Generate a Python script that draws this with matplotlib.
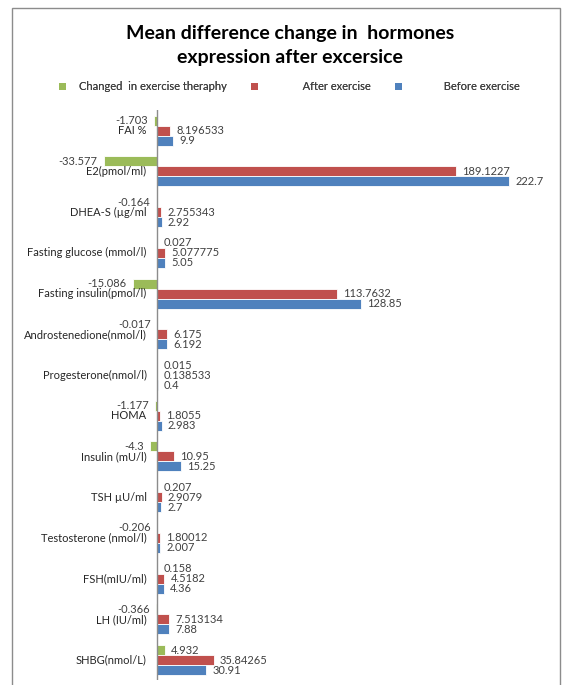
import matplotlib
matplotlib.use("Agg")
import matplotlib.pyplot as plt
from matplotlib.patches import Patch, Rectangle
import numpy as np

plt.rcParams['font.family'] = ['Lato', 'DejaVu Sans']

# categories, top to bottom as in the original chart
categories = [
    "FAI %", "E2(pmol/ml)", "DHEA-S (\u00b5g/ml", "Fasting glucose (mmol/l)",
    "Fasting insulin(pmol/l)", "Androstenedione(nmol/l)", "Progesterone(nmol/l)",
    "HOMA", "Insulin (mU/l)", "TSH \u00b5U/ml", "Testosterone (nmol/l)",
    "FSH(mIU/ml)", "LH (IU/ml)", "SHBG(nmol/L)",
]
changed = [-1.703, -33.577, -0.164, 0.027, -15.086, -0.017, 0.015,
           -1.177, -4.3, 0.207, -0.206, 0.158, -0.366, 4.932]
after = [8.196533, 189.1227, 2.755343, 5.077775, 113.7632, 6.175, 0.138533,
         1.8055, 10.95, 2.9079, 1.80012, 4.5182, 7.513134, 35.84265]
before = [9.9, 222.7, 2.92, 5.05, 128.85, 6.192, 0.4,
          2.983, 15.25, 2.7, 2.007, 4.36, 7.88, 30.91]

changed_lbl = ["-1.703", "-33.577", "-0.164", "0.027", "-15.086", "-0.017", "0.015",
               "-1.177", "-4.3", "0.207", "-0.206", "0.158", "-0.366", "4.932"]
after_lbl = ["8.196533", "189.1227", "2.755343", "5.077775", "113.7632", "6.175",
             "0.138533", "1.8055", "10.95", "2.9079", "1.80012", "4.5182",
             "7.513134", "35.84265"]
before_lbl = ["9.9", "222.7", "2.92", "5.05", "128.85", "6.192", "0.4",
              "2.983", "15.25", "2.7", "2.007", "4.36", "7.88", "30.91"]

series_names = ["Changed  in exercise theraphy", "After exercise", "Before exercise"]
colors = ["#9BBB59", "#C0504D", "#4F81BD"]

W, H = 568, 685
fig = plt.figure(figsize=(W / 100, H / 100), dpi=100)

# outer chart border (Excel style)
fig.add_artist(Rectangle((12 / W, -0.02), (560 - 12) / W, 1.02 - 8 / H,
                         transform=fig.transFigure, fill=False,
                         edgecolor="#8c8c8c", linewidth=1.0))

ax_left, ax_right = 20, 555
ax_top, ax_bottom = 110.4, 680.4
ax = fig.add_axes([ax_left / W, 1 - ax_bottom / H,
                   (ax_right - ax_left) / W, (ax_bottom - ax_top) / H])

y = np.arange(len(categories))
h = 0.246
ax.barh(y - h, changed, height=h, color=colors[0], edgecolor="white", linewidth=0.6)
ax.barh(y, after, height=h, color=colors[1], edgecolor="white", linewidth=0.6)
ax.barh(y + h, before, height=h, color=colors[2], edgecolor="white", linewidth=0.6)

px_per_unit = 352 / 222.7
ax.set_xlim(-(157 - ax_left) / px_per_unit, (ax_right - 157) / px_per_unit)
ax.set_ylim(len(categories) - 0.5, -0.5)
ax.axis("off")
ax.axvline(0, color="#8c8c8c", linewidth=1.0)

txt_color = "#404040"
for vals, lbls, off in [(changed, changed_lbl, -h), (after, after_lbl, 0), (before, before_lbl, h)]:
    for i, (v, s) in enumerate(zip(vals, lbls)):
        dx = 4.5 if v >= 0 else -4.5
        ax.annotate(s, (v, i + off), xytext=(dx, 0), textcoords="offset points",
                    ha="left" if v >= 0 else "right", va="center",
                    fontsize=8, color=txt_color)

for i, c in enumerate(categories):
    ax.annotate(c, (0, i), xytext=(-7.5, 0), textcoords="offset points",
                ha="right", va="center", fontsize=8, color="#262626")

# title
fig.text(290 / W, 1 - 34 / H, "Mean difference change in  hormones",
         ha="center", va="center", fontsize=14, fontweight="bold", color="black")
fig.text(290 / W, 1 - 57 / H, "expression after excersice",
         ha="center", va="center", fontsize=14, fontweight="bold", color="black")

# legend entries placed one by one like the Excel layout
leg_pos = [59, 251, 395]
leg_labels = [series_names[0], "           " + series_names[1], "          " + series_names[2]]
for x0, lab, col in zip(leg_pos, leg_labels, colors):
    leg = fig.legend(handles=[Patch(facecolor=col, edgecolor="none")], labels=[lab],
                     loc="center left", bbox_to_anchor=(x0 / W, 1 - 87 / H),
                     frameon=False, fontsize=8, handlelength=0.6, handleheight=0.6,
                     handletextpad=1.2, borderpad=0, borderaxespad=0,
                     labelcolor=txt_color)
    fig.add_artist(leg)

fig.savefig("out.png", dpi=100)
